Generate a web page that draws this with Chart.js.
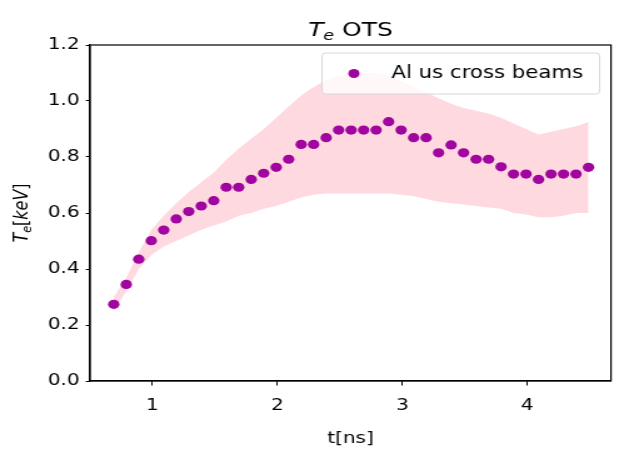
<!DOCTYPE html>
<html>
<head>
<meta charset="utf-8">
<title>Te OTS</title>
<script src="https://cdn.jsdelivr.net/npm/chart.js@4"></script>
<style>
  html, body { margin: 0; padding: 0; background: #fff; overflow: hidden; }
</style>
</head>
<body>
<!-- drawn at 495px wide, shown stretched to 619px like the original figure -->
<canvas id="teChart" width="495" height="454" style="width:619px;height:454px;"></canvas>
<script>
// time of each measurement [ns]
const times = [
    0.69, 0.79, 0.89, 0.99, 1.09, 1.19, 1.29, 1.39, 1.49,
    1.59, 1.69, 1.79, 1.89, 1.99, 2.09, 2.19, 2.29, 2.39, 2.49,
    2.59, 2.69, 2.79, 2.89, 2.99, 3.09, 3.19, 3.29, 3.39, 3.49,
    3.59, 3.69, 3.79, 3.89, 3.99, 4.09, 4.19, 4.29, 4.39, 4.49,
];
// electron temperature [keV]
const teValues = [
    0.274, 0.345, 0.435, 0.501, 0.539, 0.579, 0.605, 0.625, 0.644,
    0.692, 0.692, 0.720, 0.742, 0.763, 0.792, 0.845, 0.845, 0.869, 0.896,
    0.896, 0.896, 0.896, 0.926, 0.896, 0.869, 0.869, 0.815, 0.843, 0.815,
    0.792, 0.792, 0.765, 0.739, 0.739, 0.720, 0.739, 0.739, 0.739, 0.763,
];
// uncertainty band
const bandUpper = [
    0.30, 0.37, 0.46, 0.54, 0.59, 0.635, 0.675, 0.71, 0.745,
    0.79, 0.83, 0.865, 0.90, 0.94, 0.98, 1.02, 1.05, 1.075, 1.09,
    1.10, 1.10, 1.10, 1.09, 1.07, 1.05, 1.03, 1.01, 0.99, 0.975,
    0.965, 0.955, 0.94, 0.92, 0.90, 0.88, 0.89, 0.90, 0.91, 0.925,
];
const bandLower = [
    0.25, 0.32, 0.40, 0.45, 0.48, 0.50, 0.52, 0.54, 0.555,
    0.57, 0.59, 0.60, 0.615, 0.625, 0.64, 0.655, 0.665, 0.67, 0.67,
    0.67, 0.67, 0.67, 0.67, 0.665, 0.66, 0.65, 0.64, 0.635, 0.63,
    0.625, 0.62, 0.615, 0.60, 0.595, 0.585, 0.585, 0.59, 0.60, 0.60,
];
const xTickValues = [1, 2, 3, 4];
const yTickValues = [0.0, 0.2, 0.4, 0.6, 0.8, 1.0, 1.2];

const seriesLabel = 'Al us cross beams';
const FONT = "'DejaVu Sans', sans-serif";
const POINT_COLOR = '#a0069f';
const BAND_COLOR = 'rgba(255,192,203,0.6)';

const toXY = (ys) => times.map((t, i) => ({ x: t, y: ys[i] }));

// frame, title, axis titles and legend (matplotlib style)
const decorations = {
    id: 'decorations',
    afterDraw(chart) {
        const { ctx, chartArea: a } = chart;
        ctx.save();
        ctx.strokeStyle = '#000';
        ctx.lineWidth = 1.2;
        ctx.strokeRect(a.left, a.top, a.right - a.left, a.bottom - a.top);

        ctx.fillStyle = '#000';
        ctx.textBaseline = 'alphabetic';

        // title: T_e OTS
        const tSize = 20;
        const parts = [
            { text: 'T', font: `italic ${tSize}px ${FONT}`, dy: 0 },
            { text: 'e', font: `italic ${tSize * 0.7}px ${FONT}`, dy: 4 },
            { text: ' OTS', font: `${tSize}px ${FONT}`, dy: 0 },
        ];
        let total = 0;
        parts.forEach((p) => { ctx.font = p.font; p.w = ctx.measureText(p.text).width; total += p.w; });
        let x = (a.left + a.right) / 2 - total / 2;
        ctx.textAlign = 'left';
        parts.forEach((p) => { ctx.font = p.font; ctx.fillText(p.text, x, 36 + p.dy); x += p.w; });

        // x axis title
        ctx.font = `16px ${FONT}`;
        ctx.textAlign = 'center';
        ctx.fillText('t[ns]', (a.left + a.right) / 2, 443);

        // y axis title: T_e[keV]
        const ySize = 16;
        const yParts = [
            { text: 'T', font: `italic ${ySize}px ${FONT}`, dy: 0 },
            { text: 'e', font: `italic ${ySize * 0.7}px ${FONT}`, dy: 3 },
            { text: '[', font: `${ySize}px ${FONT}`, dy: 0 },
            { text: 'keV', font: `italic ${ySize}px ${FONT}`, dy: 0 },
            { text: ']', font: `${ySize}px ${FONT}`, dy: 0 },
        ];
        total = 0;
        yParts.forEach((p) => { ctx.font = p.font; p.w = ctx.measureText(p.text).width; total += p.w; });
        ctx.save();
        ctx.translate(21.5, (a.top + a.bottom) / 2);
        ctx.rotate(-Math.PI / 2);
        ctx.textAlign = 'left';
        x = -total / 2;
        yParts.forEach((p) => { ctx.font = p.font; ctx.fillText(p.text, x, p.dy); x += p.w; });
        ctx.restore();

        // legend
        const lx = 257.5, ly = 53, lw = 222, lh = 41;
        ctx.beginPath();
        ctx.roundRect(lx, ly, lw, lh, 3);
        ctx.fillStyle = 'rgba(255,255,255,0.8)';
        ctx.fill();
        ctx.strokeStyle = '#d6d6d6';
        ctx.lineWidth = 1;
        ctx.stroke();
        const ds = chart.data.datasets[0];
        ctx.fillStyle = ds.backgroundColor;
        ctx.beginPath();
        ctx.arc(283, 73.5, 4.5, 0, Math.PI * 2);
        ctx.fill();
        ctx.fillStyle = '#000';
        ctx.font = `17px ${FONT}`;
        ctx.textAlign = 'left';
        ctx.textBaseline = 'middle';
        ctx.fillText(ds.label, 313, 74);
        ctx.restore();
    },
};

new Chart(document.getElementById('teChart'), {
    type: 'scatter',
    data: {
        datasets: [
            {
                label: seriesLabel,
                data: toXY(teValues),
                backgroundColor: POINT_COLOR,
                borderWidth: 0,
                pointRadius: 4.6,
            },
            {
                label: 'lower',
                data: toXY(bandLower),
                showLine: true,
                pointRadius: 0,
                borderWidth: 0,
                borderColor: 'rgba(0,0,0,0)',
                fill: false,
            },
            {
                label: 'upper',
                data: toXY(bandUpper),
                showLine: true,
                pointRadius: 0,
                borderWidth: 0,
                borderColor: 'rgba(0,0,0,0)',
                backgroundColor: BAND_COLOR,
                fill: '-1',
            },
        ],
    },
    options: {
        responsive: false,
        animation: false,
        devicePixelRatio: 1,
        layout: { padding: { top: 45, right: 6.4, left: 0, bottom: 0 } },
        plugins: {
            legend: { display: false },
            tooltip: { enabled: false },
            title: { display: false },
        },
        scales: {
            x: {
                type: 'linear',
                min: 0.5,
                max: 4.67,
                afterBuildTicks: (s) => { s.ticks = xTickValues.map((v) => ({ value: v })); },
                afterFit: (s) => { s.height = 73; },
                ticks: { color: '#000', font: { family: FONT, size: 16 }, padding: 11, maxRotation: 0 },
                grid: { drawOnChartArea: false, drawTicks: true, tickLength: 4.5, color: '#000', lineWidth: 1 },
                border: { color: '#000', width: 1.2 },
            },
            y: {
                min: 0,
                max: 1.2,
                afterBuildTicks: (s) => { s.ticks = yTickValues.map((v) => ({ value: v })); },
                afterFit: (s) => { s.width = 72; },
                ticks: { color: '#000', font: { family: FONT, size: 16 }, padding: 5, callback: (v) => v.toFixed(1) },
                grid: { drawOnChartArea: false, drawTicks: true, tickLength: 3.4, color: '#000', lineWidth: 1 },
                border: { color: '#000', width: 1.2 },
            },
        },
    },
    plugins: [decorations],
});
</script>
</body>
</html>
